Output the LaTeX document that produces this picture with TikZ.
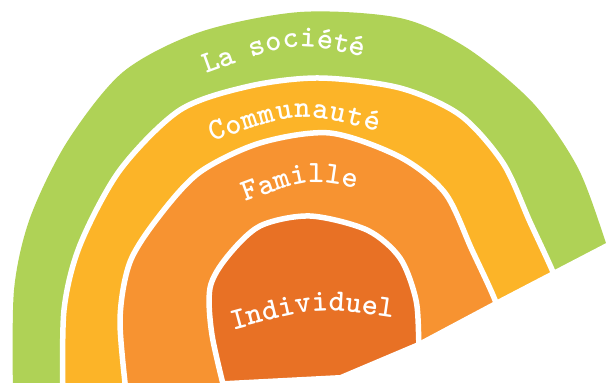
\documentclass[tikz,border=0pt]{standalone}
\usetikzlibrary{decorations.text}

\definecolor{socgreen}{RGB}{175,210,86}
\definecolor{comyellow}{RGB}{252,180,40}
\definecolor{famorange}{RGB}{247,147,49}
\definecolor{indorange}{RGB}{232,113,37}

\newcommand{\ringfont}{\ttfamily\bfseries\fontsize{31}{31}\selectfont}

\tikzset{
  ring/.style={draw=white, line width=5.5pt, line join=round},
  ringlabel/.style={decorate, decoration={text along path, text align=fit to path, text color=white}}
}

\begin{document}
\begin{tikzpicture}[x=1pt, y=-1pt]
  \useasboundingbox (0,0) rectangle (606,383);
  \clip (0,0) rectangle (606,383);

  % Society
  \fill[socgreen] plot[smooth] coordinates {(13,395) (14,290) (30,218) (67,142) (123,72) (200,32)
    (300,12) (400,18) (467,48) (533,103) (578,168) (606,243) (614,270)} -- (620,395) -- cycle;

  % Community
  \filldraw[ring, fill=comyellow] plot[smooth] coordinates {(63,400) (64,310) (80,245) (120,170)
    (180,110) (250,86) (320,78) (400,88) (460,115) (503,163) (530,222) (553,272) (565,305)}
    -- (580,400) -- cycle;

  % Family
  \filldraw[ring, fill=famorange] plot[smooth] coordinates {(127,400) (120,320) (130,262) (160,215)
    (200,172) (260,143) (330,133) (400,157) (445,193) (472,250) (495,300) (508,340)}
    -- (520,400) -- cycle;

  % Individual
  \filldraw[ring, fill=indorange] plot[smooth] coordinates {(227,400) (212,335) (210,288) (227,257)
    (260,226) (310,216) (367,230) (400,258) (416,300) (419,345) (421,370)} -- (430,400) -- cycle;

  % Cut
  \fill[white] (614,239) -- (495,301) -- (418,342) -- (340,375) -- (225,381) -- (222,400) -- (620,400) -- cycle;

  % Labels
  \path[ringlabel, decoration={text={|\ringfont|La société}}] (206,74) .. controls (294,42) .. (358,56);
  \path[ringlabel, decoration={text={|\ringfont|Communauté}}] (212,142) .. controls (299,111) .. (378,132);
  \path[ringlabel, decoration={text={|\ringfont|Famille}}] (246,202) .. controls (308,179) .. (356,188);
  \path[ringlabel, decoration={text={|\ringfont|Individuel}}] (233,330) .. controls (317,307) .. (392,318);
\end{tikzpicture}
\end{document}
